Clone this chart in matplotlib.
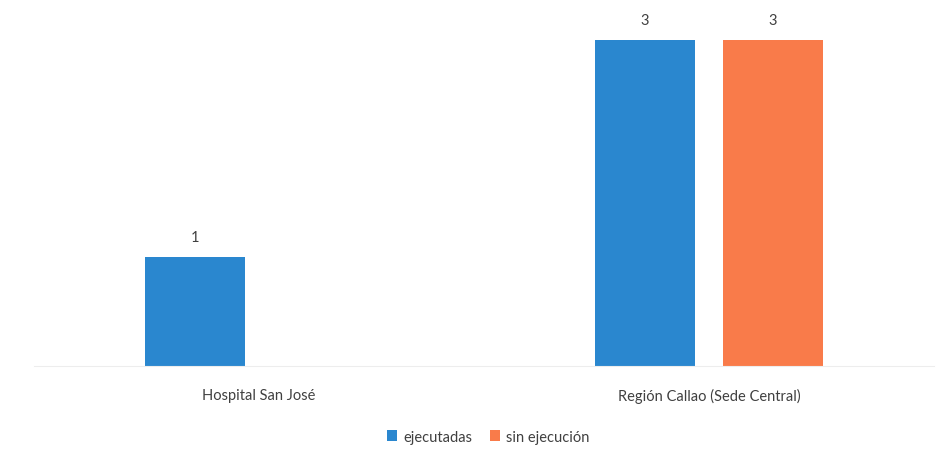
import numpy as np
import matplotlib
matplotlib.use("Agg")
import matplotlib.pyplot as plt

plt.rcParams['font.family'] = ['Lato', 'DejaVu Sans']

categories = ["Hospital San José", "Región Callao (Sede Central)"]
ejecutadas = [1, 3]
sin_ejecucion = [0, 3]
series_names = ["ejecutadas", "sin ejecución"]
colors = ["#2a87cf", "#f97b4a"]

fig = plt.figure(figsize=(9.48, 4.64), dpi=100)
ax = fig.add_axes([0.036, 0.209, 0.949, 0.749])

x = np.arange(len(categories))
width = 0.222
offset = 0.142

for vals, off, col, name in zip([ejecutadas, sin_ejecucion], [-offset, offset], colors, series_names):
    bars = ax.bar(x + off, vals, width, color=col, label=name)
    for b, v in zip(bars, vals):
        if v > 0:
            ax.text(b.get_x() + b.get_width() / 2, v + 0.12, str(v),
                    ha='center', va='bottom', fontsize=10.5, color='#404040')

ax.set_xlim(-0.5, 1.5)
ax.set_ylim(0, 3.2)
ax.set_xticks(x)
ax.set_xticklabels(categories, fontsize=10.5, color='#404040')
ax.tick_params(axis='x', length=0, pad=16)
ax.set_yticks([])
for s in ['top', 'left', 'right']:
    ax.spines[s].set_visible(False)
ax.spines['bottom'].set_color('#ededed')

fig.legend(loc='center', bbox_to_anchor=(0.515, 0.057), ncol=2, frameon=False,
           fontsize=10.5, handlelength=0.7, handleheight=0.7, handletextpad=0.4,
           columnspacing=1.2, labelcolor='#404040')

fig.savefig("out.png", dpi=100)
